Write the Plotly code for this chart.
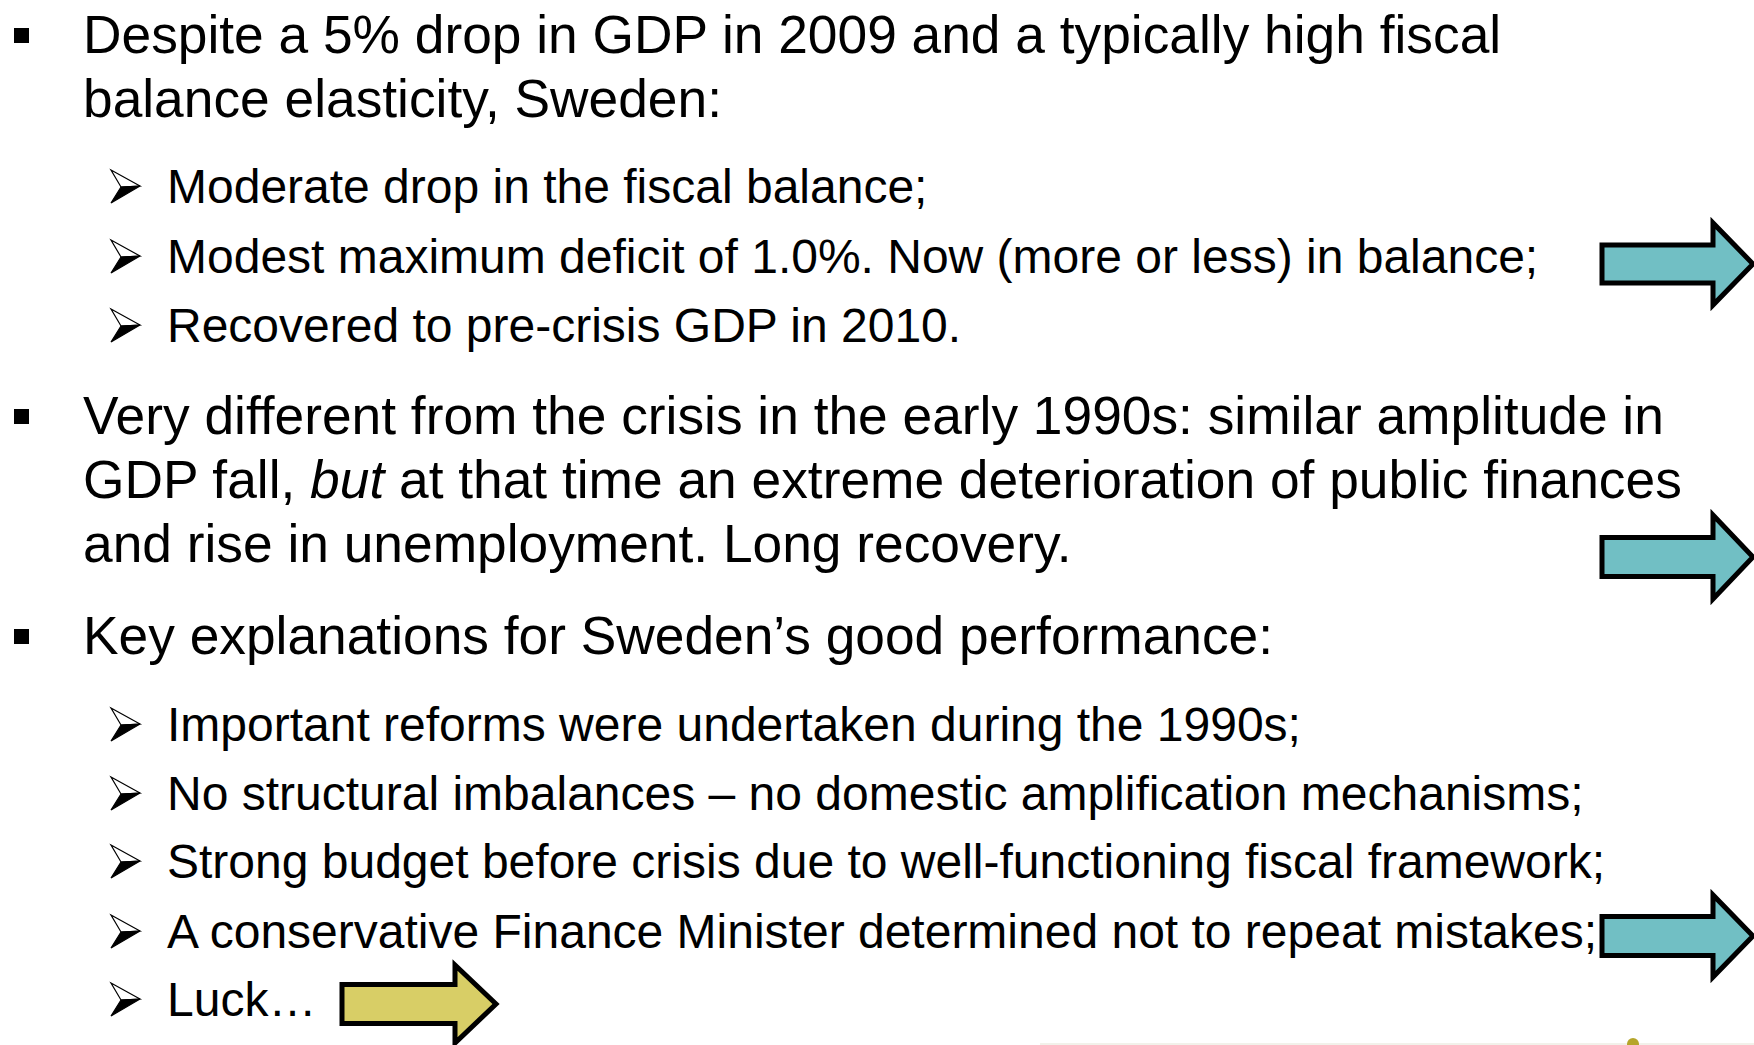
import plotly.graph_objects as go

# Slide text
bullet1_lines = [
    "Despite a 5% drop in GDP in 2009 and a typically high fiscal",
    "balance elasticity, Sweden:",
]
bullet1_subs = [
    "Moderate drop in the fiscal balance;",
    "Modest maximum deficit of 1.0%. Now (more or less) in balance;",
    "Recovered to pre-crisis GDP in 2010.",
]
bullet2_lines = [
    "Very different from the crisis in the early 1990s: similar amplitude in",
    "GDP fall, <i>but</i> at that time an extreme deterioration of public finances",
    "and rise in unemployment. Long recovery.",
]
bullet3_lines = [
    "Key explanations for Sweden\u2019s good performance:",
]
bullet3_subs = [
    "Important reforms were undertaken during the 1990s;",
    "No structural imbalances \u2013 no domestic amplification mechanisms;",
    "Strong budget before crisis due to well-functioning fiscal framework;",
    "A conservative Finance Minister determined not to repeat mistakes;",
    "Luck\u2026",
]

# Layout (pixel space of the 1754x1045 slide)
W, H = 1754, 1045
FONT = "Arial, Liberation Sans, sans-serif"
MAIN_SIZE, SUB_SIZE = 53.3, 48
MAIN_X, SUB_X = 81, 165
main_y = [[34, 98], [415, 479, 543], [635]]
sub_y = [[186, 256, 325], [724, 793, 861, 931, 999]]
bullet_starts = [34, 415, 635]

TEAL = "#71BFC4"
YELLOW = "#D8CE66"

fig = go.Figure()
fig.update_layout(
    width=W, height=H,
    margin=dict(l=0, r=0, t=0, b=0),
    paper_bgcolor="white", plot_bgcolor="white",
    xaxis=dict(range=[0, W], visible=False, fixedrange=True),
    yaxis=dict(range=[H, 0], visible=False, fixedrange=True),
    showlegend=False,
)


def add_line(text, x, y, size):
    fig.add_annotation(
        x=x, y=y, xref="x", yref="y", text=text, showarrow=False,
        xanchor="left", yanchor="middle", align="left",
        font=dict(family=FONT, size=size, color="black"),
    )


def add_square(yc):
    fig.add_shape(type="rect", x0=14, x1=29, y0=yc - 6, y1=yc + 9,
                  fillcolor="black", line=dict(width=0))


def add_arrowhead(yc):
    x0, x1 = 111, 140
    top, bot = yc - 16, yc + 17
    nx, ny = 121, yc + 1
    fig.add_shape(type="path",
                  path=f"M{x0},{top} L{x1},{yc} L{nx},{ny} Z",
                  fillcolor="white", line=dict(color="black", width=1.2))
    fig.add_shape(type="path",
                  path=f"M{nx},{ny} L{x1},{yc} L{x0},{bot} Z",
                  fillcolor="black", line=dict(color="black", width=1.2))


def add_block_arrow(x0, yc, body_len, body_h, head_len, head_h, color):
    xb = x0 + body_len
    xt = xb + head_len
    path = (f"M{x0},{yc - body_h / 2} L{xb},{yc - body_h / 2} L{xb},{yc - head_h / 2} "
            f"L{xt},{yc} L{xb},{yc + head_h / 2} L{xb},{yc + body_h / 2} "
            f"L{x0},{yc + body_h / 2} Z")
    fig.add_shape(type="path", path=path, fillcolor=color,
                  line=dict(color="black", width=5))


# main bullets
for lines, ys in zip([bullet1_lines, bullet2_lines, bullet3_lines], main_y):
    for t, y in zip(lines, ys):
        add_line(t, MAIN_X, y, MAIN_SIZE)
for y in bullet_starts:
    add_square(y)

# sub bullets
for lines, ys in zip([bullet1_subs, bullet3_subs], sub_y):
    for t, y in zip(lines, ys):
        add_line(t, SUB_X, y, SUB_SIZE)
        add_arrowhead(y)

# block arrows
add_block_arrow(1602, 264, 111, 38, 40, 82, TEAL)
add_block_arrow(1602, 557, 111, 39, 40, 84, TEAL)
add_block_arrow(1602, 936, 111, 39, 40, 82, TEAL)
add_block_arrow(342, 1004, 113, 39, 41, 78, YELLOW)

# faint footer strip at the bottom edge
fig.add_shape(type="line", x0=1040, x1=W, y0=1044, y1=1044,
              line=dict(color="#F2F1EA", width=2))
fig.add_shape(type="circle", x0=1627, x1=1639, y0=1038, y1=1050,
              fillcolor="#B5A52A", line=dict(width=0))

# the page body has a default 8px margin; remove it so the slide sits at 0,0
fig.write_html("out.html", config={"displayModeBar": False},
               post_script="document.body.style.margin='0';")
